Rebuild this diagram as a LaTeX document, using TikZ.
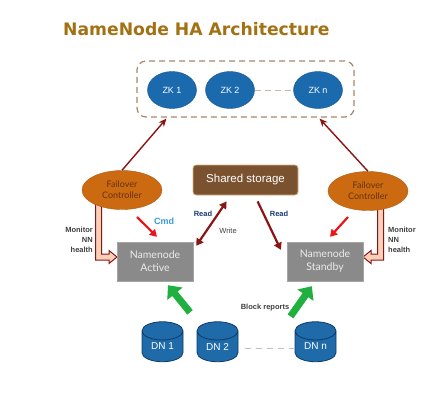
\documentclass[tikz,border=0pt]{standalone}
\usepackage{fontspec}
\setmainfont{Liberation Sans}
\newfontfamily\titlefont{DejaVu Sans}
\newfontfamily\gillfont{Lato}
\usetikzlibrary{shapes.geometric,arrows.meta,calc}
\definecolor{titlec}{RGB}{163,112,18}
\definecolor{zkblue}{RGB}{27,106,174}
\definecolor{boxdash}{RGB}{168,135,106}
\definecolor{fcorange}{RGB}{204,106,18}
\definecolor{fcedge}{RGB}{176,90,20}
\definecolor{fctext}{RGB}{100,50,15}
\definecolor{storebrown}{RGB}{122,82,48}
\definecolor{storeedge}{RGB}{216,176,128}
\definecolor{nngray}{RGB}{138,138,138}
\definecolor{nnedge}{RGB}{165,165,165}
\definecolor{darkred}{RGB}{139,21,21}
\definecolor{brightred}{RGB}{232,22,27}
\definecolor{monfill}{RGB}{250,208,184}
\definecolor{grn}{RGB}{32,176,64}
\definecolor{dnblue}{RGB}{31,106,168}
\definecolor{dnedge}{RGB}{12,60,105}
\definecolor{readc}{RGB}{26,58,112}
\definecolor{labgray}{RGB}{64,64,64}
\definecolor{cmdblue}{RGB}{58,154,217}
\tikzset{
  zk/.style={ellipse, fill=zkblue, draw=zkblue!80!black, minimum width=49pt, minimum height=37pt, inner sep=0pt, text=white, font=\fontsize{9}{10}\selectfont},
  fc/.style={ellipse, fill=fcorange, draw=fcedge, minimum width=80pt, minimum height=39pt, inner sep=0pt, text=fctext, align=center, font=\gillfont\fontsize{9}{11}\selectfont},
  nn/.style={rectangle, fill=nngray, draw=nnedge, minimum width=76pt, minimum height=39pt, inner sep=0pt, text=white!92!black, align=center, font=\gillfont\fontsize{10.5}{13}\selectfont},
  dn/.style={cylinder, shape border rotate=90, aspect=0.8, fill=dnblue, draw=dnedge, line width=0.8pt, minimum width=41pt, minimum height=40pt, inner sep=0pt, text=white, font=\fontsize{10}{12}\selectfont},
  small/.style={font=\bfseries\fontsize{7.5}{10}\selectfont, inner sep=0pt},
  redarrow/.style={-{Triangle[length=7pt,width=8pt]}, draw=brightred, line width=2.2pt},
  darrow/.style={-{Stealth[length=8pt,width=7pt]}, draw=darkred, line width=1.4pt},
  rwarrow/.style={{Triangle[length=7pt,width=8pt]}-{Triangle[length=7pt,width=8pt]}, draw=darkred, line width=2.2pt},
  grarrow/.style={-{Triangle[length=11pt,width=19pt]}, draw=grn, line width=7pt},
  monarrow/.style={fill=monfill, draw=darkred, line width=1pt, line join=miter},
}
\begin{document}
\begin{tikzpicture}[x=1pt,y=-1pt]
\useasboundingbox (0,0) rectangle (435,405);
\fill[white] (0,0) rectangle (435,405);
% title
\node[anchor=base west, inner sep=0pt, text=titlec, font=\titlefont\bfseries\fontsize{17.2}{20}\selectfont] (title) at (63,35) {NameNode HA Architecture};
% ZK group
\node[draw=boxdash, dashed, dash pattern=on 6pt off 4pt, line width=1.2pt, rounded corners=9pt, minimum width=217pt, minimum height=56pt, inner sep=0pt] (zkbox) at (245.5,89) {};
\node[zk] (zk1) at (172,90) {ZK 1};
\node[zk] (zk2) at (230,90) {ZK 2};
\node[zk] (zkn) at (318,90) {ZK n};
\draw[boxdash!60, dash pattern=on 6pt off 4pt, line width=1pt] (zk2.east) -- (zkn.west);
% monitor arrows (under ellipses)
\draw[monarrow] (95.5,200) -- (95.5,260) -- (109,260) -- (109,263.5) -- (117,257) -- (109,250.5) -- (109,254) -- (101.5,254) -- (101.5,200) -- cycle;
\draw[monarrow] (383.5,200) -- (383.5,260) -- (371,260) -- (371,263.5) -- (363,257) -- (371,250.5) -- (371,254) -- (377.5,254) -- (377.5,200) -- cycle;
% failover controllers
\node[fc] (fcl) at (122,190) {Failover\\Controller};
\node[fc] (fcr) at (368,191) {Failover\\Controller};
% shared storage
\node[rectangle, rounded corners=3pt, fill=storebrown, draw=storeedge, line width=0.8pt, minimum width=105pt, minimum height=30pt, inner sep=0pt, text=white, font=\fontsize{11.5}{13}\selectfont] (ss) at (245.5,180) {Shared storage};
% namenodes
\node[nn] (act) at (155,261.5) {Namenode\\Active};
\node[nn] (stb) at (325,261.5) {Namenode\\Standby};
% datanodes
\node[dn] (dn1) at (162.5,346.5) {DN 1};
\node[dn] (dn2) at (217.5,346.5) {DN 2};
\node[dn] (dnn) at (315.5,346.5) {DN n};
\draw[gray!50, dash pattern=on 6pt off 5pt, line width=1pt] (dn2.east |- 0,348) ++(7,0) coordinate (dsA) -- (dsA -| dnn.west) ++(-8,0) coordinate (dsB);
% FC -> ZK arrows
\draw[darrow] (fcl.north) -- ($(zkbox.south west)+(30,1)$) coordinate (zkl);
\draw[darrow] (fcr.north) -- ($(zkbox.south east)+(-35,1)$) coordinate (zkr);
% Cmd arrows
\coordinate (cmdA) at (137,217);
\draw[redarrow] (cmdA) -- ($(act.north)+(2,-5)$);
\node[small, text=cmdblue, font=\bfseries\fontsize{9}{10}\selectfont, anchor=west] (cmd) at (154,221) {Cmd};
\coordinate (cmdB) at (348,217);
\draw[redarrow] (cmdB) -- ($(stb.north)+(5,-5)$);
% read/write
\draw[rwarrow] ($(ss.south west)+(34,6)$) -- ($(act.north east)+(3,4)$);
\node[small, text=readc] (rd1) at (203,214) {Read};
\node[small, text=labgray, font=\fontsize{7.5}{10}\selectfont] (wr) at (228,231) {Write};
\draw[darrow, line width=2.2pt, -{Triangle[length=7pt,width=8pt]}] ($(ss.south west)+(65,6)$) -- ($(stb.north west)+(-6,8)$);
\node[small, text=readc] (rd2) at (279,214) {Read};
% monitor labels
\node[small, text=labgray, align=right, anchor=north east, font=\bfseries\fontsize{7.5}{10}\selectfont] (monl) at (93,227) {Monitor\\NN\\health};
\node[small, text=labgray, align=left, anchor=north west, font=\bfseries\fontsize{7.5}{10}\selectfont] (monr) at (388,227) {Monitor\\NN\\health};
% block reports
\draw[grarrow] ($(dn1.north)!0.5!(dn2.north)+(0,-9)$) -- ($(act.south)+(13,4)$);
\draw[grarrow] ($(dnn.north)+(-25,-5)$) -- ($(stb.south west)+(25,5)$);
\node[small, text=labgray] (br) at (265,308) {Block reports};
\end{tikzpicture}
\end{document}
